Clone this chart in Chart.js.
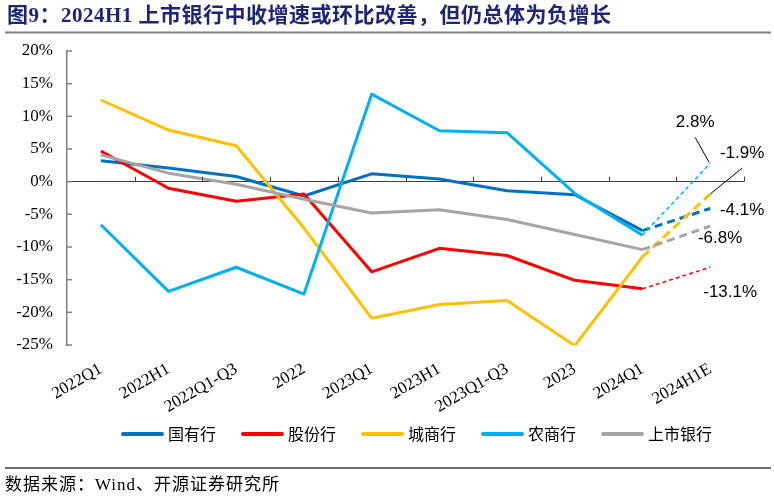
<!DOCTYPE html>
<html>
<head>
<meta charset="utf-8">
<script src="https://cdn.jsdelivr.net/npm/chart.js@4.4.1/dist/chart.umd.min.js"></script>
<style>
  html, body { margin: 0; background: #fff; }
  canvas { display: block; }
</style>
</head>
<body>
<canvas id="chart" width="774" height="499"></canvas>
<script>
// 数据（%）
const categories = ['2022Q1', '2022H1', '2022Q1-Q3', '2022', '2023Q1', '2023H1', '2023Q1-Q3', '2023', '2024Q1', '2024H1E'];
const seriesNames = ['国有行', '股份行', '城商行', '农商行', '上市银行'];
const stateOwned = [3.2, 2.1, 0.8, -2.2, 1.2, 0.4, -1.4, -2.0, -7.5, -4.1];
const jointStock = [4.7, -1.0, -3.0, -1.9, -13.8, -10.2, -11.3, -15.1, -16.4, -13.1];
const cityBanks = [12.5, 7.9, 5.5, -7.1, -20.9, -18.8, -18.2, -25.1, -11.5, -1.9];
const ruralBanks = [-6.6, -16.8, -13.1, -17.2, 13.4, 7.8, 7.5, -1.8, -8.2, 2.8];
const listedBanks = [4.1, 1.3, -0.4, -2.7, -4.8, -4.3, -5.8, -8.1, -10.4, -6.8];
const yTicks = [20, 15, 10, 5, 0, -5, -10, -15, -20, -25];

const title = '图9：2024H1 上市银行中收增速或环比改善，但仍总体为负增长';
const source = '数据来源：Wind、开源证券研究所';

// 样式
const colors = ['#0070C0', '#FF0000', '#FFC000', '#00B0F0', '#A5A5A5'];
const forecastDash = [[8, 5], [4, 3], [9, 5], [4, 3], [8, 5]];
const forecastWidth = [3, 1.5, 3, 1.5, 3];
// 末端数值标签相对末点的偏移，及引线
const labelOffsets = [[32, 2], [20, 25], [32, -41], [-15, -41], [10, 12]];
const leaders = [null, null, [32, -26, 0, 0], [-15, -26, -1, -1], null];

const serifFont = '"Liberation Serif", "Noto Sans CJK SC"';
const allSeries = [stateOwned, jointStock, cityBanks, ruralBanks, listedBanks];
const lastIdx = categories.length - 1;

const datasets = allSeries.map((values, i) => ({
  label: seriesNames[i],
  data: values,
  borderColor: colors[i],
  backgroundColor: colors[i],
  borderWidth: 3,
  borderJoinStyle: 'round',
  pointRadius: 0,
  pointHoverRadius: 0,
  tension: 0,
  fill: false,
  order: allSeries.length - i,
  segment: {
    borderDash: ctx => ctx.p1DataIndex === lastIdx ? forecastDash[i] : undefined,
    borderWidth: ctx => ctx.p1DataIndex === lastIdx ? forecastWidth[i] : undefined,
  }
}));

const decorations = {
  id: 'decorations',
  beforeDraw(chart) {
    const ctx = chart.ctx;
    ctx.save();
    ctx.fillStyle = '#fff';
    ctx.fillRect(0, 0, chart.width, chart.height);
    ctx.restore();
  },
  afterDraw(chart) {
    const ctx = chart.ctx;
    const x = chart.scales.x;
    const y = chart.scales.y;
    const area = chart.chartArea;
    ctx.save();

    // 标题 & 分隔线
    ctx.fillStyle = '#1E2478';
    ctx.font = 'bold 21px ' + serifFont;
    ctx.letterSpacing = '0.5px';
    ctx.textBaseline = 'middle';
    ctx.textAlign = 'left';
    ctx.fillText(title, 7, 17);
    ctx.strokeStyle = '#7F7F7F';
    ctx.lineWidth = 2;
    ctx.beginPath();
    ctx.moveTo(5, 32.5);
    ctx.lineTo(771, 32.5);
    ctx.stroke();

    // 底部来源
    ctx.lineWidth = 1.5;
    ctx.strokeStyle = '#404040';
    ctx.beginPath();
    ctx.moveTo(5, 468);
    ctx.lineTo(771, 468);
    ctx.stroke();
    ctx.fillStyle = '#000';
    ctx.font = '17px ' + serifFont;
    ctx.letterSpacing = '1px';
    ctx.fillText(source, 5, 486);
    ctx.letterSpacing = '0px';

    // y 轴内刻度
    ctx.strokeStyle = '#808080';
    ctx.lineWidth = 1.5;
    yTicks.forEach(v => {
      const py = y.getPixelForValue(v);
      ctx.beginPath();
      ctx.moveTo(area.left, py);
      ctx.lineTo(area.left + 5, py);
      ctx.stroke();
    });

    // x 轴刻度（0 线上方）
    const zeroY = y.getPixelForValue(0);
    const half = (x.getPixelForValue(1) - x.getPixelForValue(0)) / 2;
    ctx.strokeStyle = '#404040';
    ctx.lineWidth = 1;
    categories.forEach((c, i) => {
      const px = Math.round(x.getPixelForValue(i) + half) + 0.5;
      ctx.beginPath();
      ctx.moveTo(px, zeroY);
      ctx.lineTo(px, zeroY - 5);
      ctx.stroke();
    });

    // 图例
    ctx.font = '16px "Noto Sans CJK SC"';
    ctx.textBaseline = 'middle';
    seriesNames.forEach((name, i) => {
      const lx = 123 + i * 120;
      ctx.strokeStyle = colors[i];
      ctx.lineWidth = 4;
      ctx.lineCap = 'round';
      ctx.beginPath();
      ctx.moveTo(lx, 434);
      ctx.lineTo(lx + 39, 434);
      ctx.stroke();
      ctx.fillStyle = '#000';
      ctx.fillText(name, lx + 45, 434);
    });

    // 末端数值标签
    ctx.font = '17px "Liberation Sans"';
    ctx.textAlign = 'center';
    ctx.lineCap = 'butt';
    datasets.forEach((ds, i) => {
      const pt = chart.getDatasetMeta(i).data[lastIdx];
      const [dx, dy] = labelOffsets[i];
      ctx.fillStyle = '#000';
      ctx.fillText(ds.data[lastIdx].toFixed(1) + '%', pt.x + dx, pt.y + dy);
      const l = leaders[i];
      if (l) {
        ctx.strokeStyle = '#000';
        ctx.lineWidth = 1;
        ctx.beginPath();
        ctx.moveTo(pt.x + l[0], pt.y + l[1]);
        ctx.lineTo(pt.x + l[2], pt.y + l[3]);
        ctx.stroke();
      }
    });
    ctx.restore();
  }
};

new Chart(document.getElementById('chart'), {
  type: 'line',
  data: { labels: categories, datasets },
  options: {
    responsive: false,
    animation: false,
    devicePixelRatio: 1,
    layout: { padding: { top: 51, right: 30, bottom: 0, left: 0 } },
    plugins: {
      legend: { display: false },
      tooltip: { enabled: false }
    },
    scales: {
      x: {
        offset: true,
        grid: { display: false, drawTicks: false },
        border: { display: false },
        ticks: {
          autoSkip: false,
          maxRotation: 30,
          minRotation: 30,
          padding: 14,
          color: '#000',
          font: { family: serifFont, size: 17 }
        },
        afterFit(scale) { scale.height = 154; }
      },
      y: {
        min: -25,
        max: 20,
        afterBuildTicks(scale) { scale.ticks = yTicks.map(v => ({ value: v })); },
        grid: {
          drawTicks: false,
          color: ctx => ctx.tick && ctx.tick.value === 0 ? '#404040' : 'rgba(0,0,0,0)',
          lineWidth: 1
        },
        border: { display: true, color: '#808080', width: 1.5 },
        ticks: {
          padding: 14,
          color: '#000',
          font: { family: serifFont, size: 17 },
          callback: v => v + '%'
        },
        afterFit(scale) { scale.width = 67; }
      }
    }
  },
  plugins: [decorations]
});
</script>
</body>
</html>
